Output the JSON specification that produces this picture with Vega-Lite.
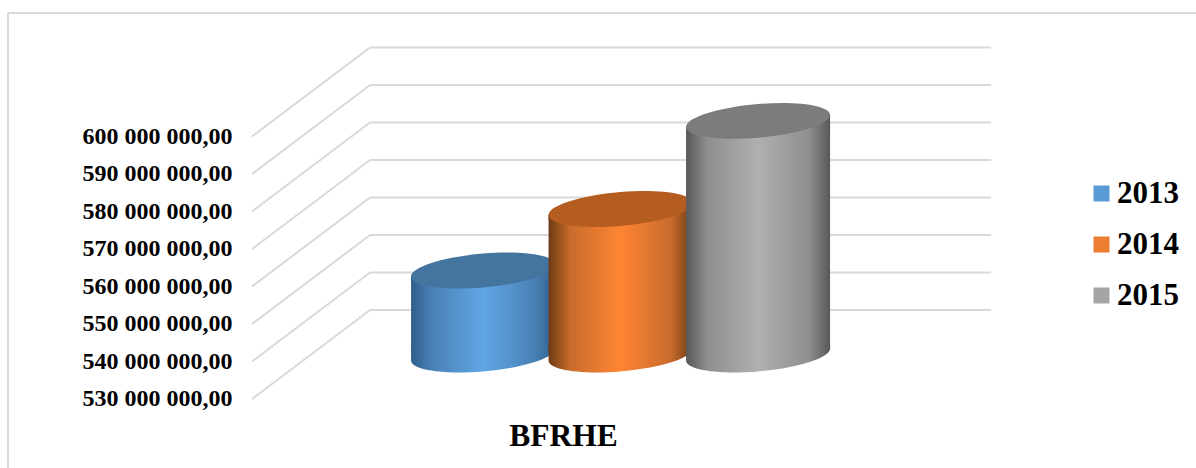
{
"$schema":"https://vega.github.io/schema/vega-lite/v6.json",
"width":1188,"height":455,
"autosize":{"type":"none"},
"padding":{"left":8,"top":13,"right":0,"bottom":0},
"background":"white",
"view":{"stroke":null},
"datasets":{
"bars":[{"year":2013,"value":552400000},{"year":2014,"value":568800000},{"year":2015,"value":592300000}],
"grid":[{"value":530000000},{"value":540000000},{"value":550000000},{"value":560000000},{"value":570000000},{"value":580000000},{"value":590000000},{"value":600000000}]
},
"layer":[
{"data":{"values":[{"f":1}]},"mark":{"type":"rule","color":"#D9D9D9","strokeWidth":2},
 "encoding":{"x":{"datum":2009.545,"type":"quantitative","scale":{"domain":[2009.545,2018.185],"nice":false,"zero":false,"padding":0},
   "axis":{"labels":false,"ticks":false,"domain":false,"grid":false,"title":"BFRHE","titleFont":"Liberation Serif","titleFontWeight":"bold","titleFontSize":31.5,"titleColor":"#000000","titleX":555,"titleY":-22.5,"titleAlign":"center","titleBaseline":"alphabetic"}}}},
{"data":{"values":[{"f":1}]},"mark":{"type":"rule","color":"#D9D9D9","strokeWidth":2},
 "encoding":{"y":{"datum":632930000,"type":"quantitative","scale":{"domain":[511600000,632930000],"nice":false,"zero":false,"padding":0},
   "axis":{"values":[530000000,540000000,550000000,560000000,570000000,580000000,590000000,600000000],"labelExpr":"format(datum.value/1000000,'d')+' 000 000,00'","domain":false,"ticks":false,"grid":false,"title":null,"offset":-224,"labelPadding":0,"labelFont":"Liberation Serif","labelFontWeight":"bold","labelFontSize":24,"labelColor":"#000000","labelBaseline":"middle"}}}},
{"data":{"name":"grid"},"mark":{"type":"rule","color":"#D9D9D9","strokeWidth":2,"yOffset":-89,"y2Offset":-89},
 "encoding":{"x":{"datum":2012.178,"type":"quantitative"},"x2":{"datum":2016.695},"y":{"field":"value","type":"quantitative"},"y2":{"field":"value"}}},
{"data":{"name":"grid"},"mark":{"type":"rule","color":"#D9D9D9","strokeWidth":2,"y2Offset":-89},
 "encoding":{"x":{"datum":2011.32,"type":"quantitative"},"x2":{"datum":2012.178},"y":{"field":"value","type":"quantitative"},"y2":{"field":"value"}}},
{"data":{"name":"bars"},"mark":{"type":"bar","size":138,"orient":"vertical","yOffset":-38.5,"y2Offset":-49},
 "encoding":{"x":{"field":"year","type":"quantitative"},"y":{"field":"value","type":"quantitative"},"y2":{"datum":530000000},
  "color":{"field":"year","type":"ordinal","scale":{"domain":[2013,2014,2015],"range":["#5B9BD5","#ED7D31","#A5A5A5"]},
   "legend":{"title":null,"orient":"none","legendX":1078,"legendY":165,"symbolType":"square","symbolSize":256,"symbolStrokeWidth":0,"labelFont":"Liberation Serif","labelFontWeight":"bold","labelFontSize":31,"labelColor":"#000000","labelOffset":0,"rowPadding":19,"padding":0}}}},
{"data":{"name":"bars"},"transform":[{"filter":"datum.year==2013"}],"layer":[
 {"mark":{"type":"point","filled":true,"opacity":1,"strokeWidth":0,"size":20736,"yOffset":-44.5,"shape":"M-1,0.0833C-1,0.2131,-0.5523,0.281,0,0.235C0.5523,0.189,1,0.0465,1,-0.0833L1,-0.15L-1,-0.15Z","fill":{"gradient":"linear","x1":0,"y1":0,"x2":1,"y2":0,"stops":[{"offset":0,"color":"#2F5F8C"},{"offset":0.15,"color":"#4A82B6"},{"offset":0.5,"color":"#60A6E5"},{"offset":0.85,"color":"#4A82B6"},{"offset":1,"color":"#2F5F8C"}]}},
  "encoding":{"x":{"field":"year","type":"quantitative"},"y":{"datum":530000000,"type":"quantitative"}}},
 {"mark":{"type":"bar","size":144,"orient":"vertical","yOffset":-38.5,"y2Offset":-49,"fill":{"gradient":"linear","x1":0,"y1":0,"x2":1,"y2":0,"stops":[{"offset":0,"color":"#2F5F8C"},{"offset":0.15,"color":"#4A82B6"},{"offset":0.5,"color":"#60A6E5"},{"offset":0.85,"color":"#4A82B6"},{"offset":1,"color":"#2F5F8C"}]}},
  "encoding":{"x":{"field":"year","type":"quantitative"},"y":{"field":"value","type":"quantitative"},"y2":{"datum":530000000}}},
 {"mark":{"type":"point","filled":true,"opacity":1,"strokeWidth":0,"size":20736,"yOffset":-44.5,"shape":"M-1,0.0833L1,-0.0833L1,0.15L-1,0.15Z","fill":{"gradient":"linear","x1":0,"y1":0,"x2":1,"y2":0,"stops":[{"offset":0,"color":"#2F5F8C"},{"offset":0.15,"color":"#4A82B6"},{"offset":0.5,"color":"#60A6E5"},{"offset":0.85,"color":"#4A82B6"},{"offset":1,"color":"#2F5F8C"}]}},
  "encoding":{"x":{"field":"year","type":"quantitative"},"y":{"field":"value","type":"quantitative"}}},
 {"mark":{"type":"point","filled":true,"opacity":1,"strokeWidth":0,"size":20736,"yOffset":-44.5,"fill":"#44759F","shape":"M-1,0.0833C-1,0.2131,-0.5523,0.281,0,0.235C0.5523,0.189,1,0.0465,1,-0.0833C1,-0.2131,0.5523,-0.281,0,-0.235C-0.5523,-0.189,-1,-0.0465,-1,0.0833Z"},
  "encoding":{"x":{"field":"year","type":"quantitative"},"y":{"field":"value","type":"quantitative"}}}
]},
{"data":{"name":"bars"},"transform":[{"filter":"datum.year==2014"}],"layer":[
 {"mark":{"type":"point","filled":true,"opacity":1,"strokeWidth":0,"size":20736,"yOffset":-44.5,"shape":"M-1,0.0833C-1,0.2131,-0.5523,0.281,0,0.235C0.5523,0.189,1,0.0465,1,-0.0833L1,-0.15L-1,-0.15Z","fill":{"gradient":"linear","x1":0,"y1":0,"x2":1,"y2":0,"stops":[{"offset":0,"color":"#6E3A14"},{"offset":0.15,"color":"#C86B2B"},{"offset":0.5,"color":"#FF8533"},{"offset":0.85,"color":"#C86B2B"},{"offset":1,"color":"#6E3A14"}]}},
  "encoding":{"x":{"field":"year","type":"quantitative"},"y":{"datum":530000000,"type":"quantitative"}}},
 {"mark":{"type":"bar","size":144,"orient":"vertical","yOffset":-38.5,"y2Offset":-49,"fill":{"gradient":"linear","x1":0,"y1":0,"x2":1,"y2":0,"stops":[{"offset":0,"color":"#6E3A14"},{"offset":0.15,"color":"#C86B2B"},{"offset":0.5,"color":"#FF8533"},{"offset":0.85,"color":"#C86B2B"},{"offset":1,"color":"#6E3A14"}]}},
  "encoding":{"x":{"field":"year","type":"quantitative"},"y":{"field":"value","type":"quantitative"},"y2":{"datum":530000000}}},
 {"mark":{"type":"point","filled":true,"opacity":1,"strokeWidth":0,"size":20736,"yOffset":-44.5,"shape":"M-1,0.0833L1,-0.0833L1,0.15L-1,0.15Z","fill":{"gradient":"linear","x1":0,"y1":0,"x2":1,"y2":0,"stops":[{"offset":0,"color":"#6E3A14"},{"offset":0.15,"color":"#C86B2B"},{"offset":0.5,"color":"#FF8533"},{"offset":0.85,"color":"#C86B2B"},{"offset":1,"color":"#6E3A14"}]}},
  "encoding":{"x":{"field":"year","type":"quantitative"},"y":{"field":"value","type":"quantitative"}}},
 {"mark":{"type":"point","filled":true,"opacity":1,"strokeWidth":0,"size":20736,"yOffset":-44.5,"fill":"#B55D20","shape":"M-1,0.0833C-1,0.2131,-0.5523,0.281,0,0.235C0.5523,0.189,1,0.0465,1,-0.0833C1,-0.2131,0.5523,-0.281,0,-0.235C-0.5523,-0.189,-1,-0.0465,-1,0.0833Z"},
  "encoding":{"x":{"field":"year","type":"quantitative"},"y":{"field":"value","type":"quantitative"}}}
]},
{"data":{"name":"bars"},"transform":[{"filter":"datum.year==2015"}],"layer":[
 {"mark":{"type":"point","filled":true,"opacity":1,"strokeWidth":0,"size":20736,"yOffset":-44.5,"shape":"M-1,0.0833C-1,0.2131,-0.5523,0.281,0,0.235C0.5523,0.189,1,0.0465,1,-0.0833L1,-0.15L-1,-0.15Z","fill":{"gradient":"linear","x1":0,"y1":0,"x2":1,"y2":0,"stops":[{"offset":0,"color":"#585858"},{"offset":0.15,"color":"#8F8F8F"},{"offset":0.5,"color":"#B0B0B0"},{"offset":0.85,"color":"#8F8F8F"},{"offset":1,"color":"#585858"}]}},
  "encoding":{"x":{"field":"year","type":"quantitative"},"y":{"datum":530000000,"type":"quantitative"}}},
 {"mark":{"type":"bar","size":144,"orient":"vertical","yOffset":-38.5,"y2Offset":-49,"fill":{"gradient":"linear","x1":0,"y1":0,"x2":1,"y2":0,"stops":[{"offset":0,"color":"#585858"},{"offset":0.15,"color":"#8F8F8F"},{"offset":0.5,"color":"#B0B0B0"},{"offset":0.85,"color":"#8F8F8F"},{"offset":1,"color":"#585858"}]}},
  "encoding":{"x":{"field":"year","type":"quantitative"},"y":{"field":"value","type":"quantitative"},"y2":{"datum":530000000}}},
 {"mark":{"type":"point","filled":true,"opacity":1,"strokeWidth":0,"size":20736,"yOffset":-44.5,"shape":"M-1,0.0833L1,-0.0833L1,0.15L-1,0.15Z","fill":{"gradient":"linear","x1":0,"y1":0,"x2":1,"y2":0,"stops":[{"offset":0,"color":"#585858"},{"offset":0.15,"color":"#8F8F8F"},{"offset":0.5,"color":"#B0B0B0"},{"offset":0.85,"color":"#8F8F8F"},{"offset":1,"color":"#585858"}]}},
  "encoding":{"x":{"field":"year","type":"quantitative"},"y":{"field":"value","type":"quantitative"}}},
 {"mark":{"type":"point","filled":true,"opacity":1,"strokeWidth":0,"size":20736,"yOffset":-44.5,"fill":"#7C7C7C","shape":"M-1,0.0833C-1,0.2131,-0.5523,0.281,0,0.235C0.5523,0.189,1,0.0465,1,-0.0833C1,-0.2131,0.5523,-0.281,0,-0.235C-0.5523,-0.189,-1,-0.0465,-1,0.0833Z"},
  "encoding":{"x":{"field":"year","type":"quantitative"},"y":{"field":"value","type":"quantitative"}}}
]}
]
}
